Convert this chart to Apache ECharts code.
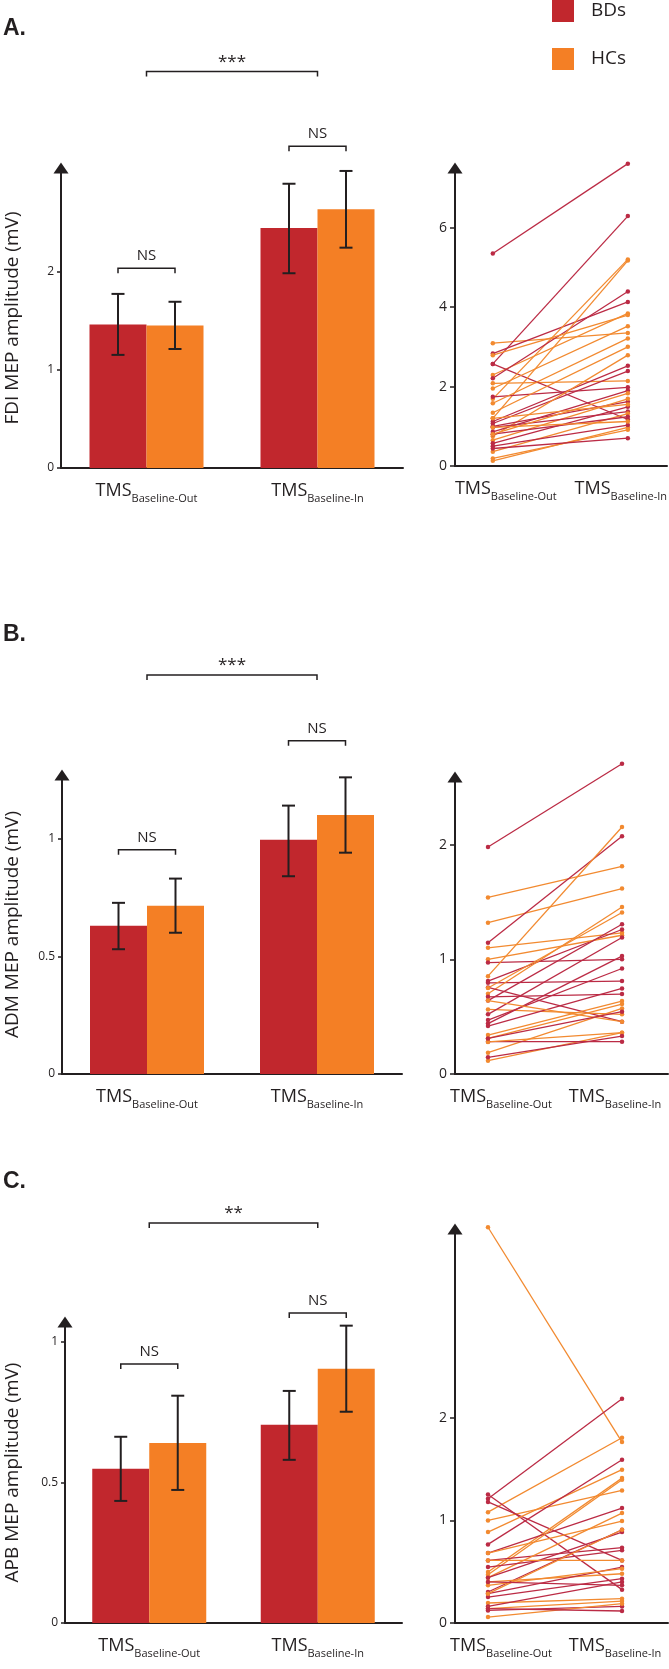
<!DOCTYPE html>
<html>
<head>
<meta charset="utf-8">
<script src="https://cdn.jsdelivr.net/npm/echarts@6/dist/echarts.min.js"></script>
<style>
html,body{margin:0;padding:0;background:#fff;}
#chart{width:669px;height:1669px;}
</style>
</head>
<body>
<div id="chart"></div>
<script>
// ---------------- DATA ----------------
const groups = ['BDs', 'HCs'];
const conditions = ['Baseline-Out', 'Baseline-In'];

// Panel A: FDI
const fdiMeanBD = [1.46, 2.44];
const fdiMeanHC = [1.45, 2.63];
const fdiLowBD = [1.15, 1.98];
const fdiHighBD = [1.77, 2.89];
const fdiLowHC = [1.21, 2.24];
const fdiHighHC = [1.69, 3.02];
const fdiSigLabels = ['NS', 'NS', '***'];
const fdiBarTicks = [0, 1, 2];
const fdiLineTicks = [0, 2, 4, 6];
const fdiOutBD = [5.35, 2.57, 2.57, 2.83, 2.21, 1.74, 1.12, 1.07, 1.00, 0.97, 0.86, 0.80, 0.57, 0.50, 0.44];
const fdiInBD  = [7.61, 6.29, 1.17, 4.13, 4.39, 1.98, 2.52, 2.39, 1.62, 1.37, 1.90, 1.24, 1.49, 1.03, 0.70];
const fdiOutHC = [3.09, 2.29, 2.08, 1.95, 1.69, 1.20, 1.58, 1.34, 0.75, 0.65, 0.36, 0.19, 0.13, 1.20, 0.80, 0.97, 2.79];
const fdiInHC  = [3.35, 3.84, 2.14, 3.52, 5.20, 5.17, 3.21, 3.00, 2.79, 1.69, 1.32, 0.91, 0.97, 1.55, 1.83, 1.12, 3.80];

// Panel B: ADM
const admMeanBD = [0.63, 0.995];
const admMeanHC = [0.715, 1.10];
const admLowBD = [0.53, 0.84];
const admHighBD = [0.727, 1.14];
const admLowHC = [0.60, 0.94];
const admHighHC = [0.83, 1.26];
const admSigLabels = ['NS', 'NS', '***'];
const admBarTicks = [0, 0.5, 1];
const admLineTicks = [0, 1, 2];
const admOutBD = [1.98, 1.144, 0.81, 0.972, 0.795, 0.755, 0.673, 0.64, 0.52, 0.47, 0.44, 0.418, 0.282, 0.145, 0.31];
const admInBD  = [2.705, 2.073, 1.26, 1.00, 0.81, 0.456, 0.697, 1.306, 1.19, 0.92, 1.028, 0.746, 0.282, 0.331, 0.543];
const admOutHC = [1.54, 1.32, 1.10, 1.00, 0.853, 0.70, 0.75, 0.563, 0.34, 0.31, 0.186, 0.116, 0.64, 0.28];
const admInHC  = [1.811, 1.617, 1.231, 1.21, 2.154, 1.457, 1.408, 0.52, 0.636, 0.61, 0.572, 0.36, 0.456, 0.36];

// Panel C: APB
const apbMeanBD = [0.548, 0.705];
const apbMeanHC = [0.64, 0.904];
const apbLowBD = [0.434, 0.58];
const apbHighBD = [0.662, 0.825];
const apbLowHC = [0.473, 0.751];
const apbHighHC = [0.808, 1.057];
const apbSigLabels = ['NS', 'NS', '**'];
const apbBarTicks = [0, 0.5, 1];
const apbLineTicks = [0, 1, 2];
const apbOutBD = [1.211, 1.253, 1.18, 0.766, 0.682, 0.61, 0.545, 0.442, 0.302, 0.286, 0.253, 0.162, 0.123, 0.14, 0.40];
const apbInBD  = [2.185, 0.325, 0.61, 1.591, 1.12, 0.734, 0.708, 0.886, 0.909, 0.545, 0.432, 0.40, 0.162, 0.117, 0.367];
const apbOutHC = [3.857, 1.08, 1.00, 0.886, 0.497, 0.471, 0.442, 0.682, 0.61, 0.40, 0.367, 0.195, 0.14, 0.058, 0.286];
const apbInHC  = [1.763, 1.805, 1.292, 1.494, 1.412, 1.396, 1.071, 0.994, 0.61, 0.48, 0.529, 0.237, 0.214, 0.188, 0.909];

// ---------------- LAYOUT / STYLE ----------------
const FONT = 'Open Sans';
const INK = '#231f20';
const BD_BAR = '#c1272d';
const HC_BAR = '#f47f25';
const BD_LINE = '#bb2b45';
const HC_LINE = '#f28a30';
const BAR_W = 57;

// annotation heights (in axis units): [within Out, within In, across]
const fdiSigLevels = [2.03, 3.27, 4.03];
const admSigLevels = [0.952, 1.415, 1.695];
const apbSigLevels = [0.921, 1.102, 1.422];

const grids = [
  {left: 61, top: 168, width: 342, height: 300, outerBoundsMode: 'none'},   // A bars
  {left: 455, top: 168, width: 212, height: 298, outerBoundsMode: 'none'},  // A lines
  {left: 62, top: 775, width: 340, height: 299, outerBoundsMode: 'none'},   // B bars
  {left: 455, top: 777, width: 213, height: 297, outerBoundsMode: 'none'},  // B lines
  {left: 65, top: 1322, width: 337, height: 301, outerBoundsMode: 'none'},  // C bars
  {left: 455, top: 1229, width: 213, height: 394, outerBoundsMode: 'none'}  // C lines
];

const tmsRich = {
  a: {fontSize: 18, color: INK, fontFamily: FONT},
  b: {fontSize: 11, color: INK, fontFamily: FONT, padding: [15, 0, 0, 0]},
  pl: {width: 26},
  pr: {width: 14}
};
const tmsFormatter = function (name) { return '{a|TMS}{b|' + name + '}'; };

const option = {
  animation: false,
  backgroundColor: '#ffffff',
  textStyle: {fontFamily: FONT},
  grid: grids,
  xAxis: [],
  yAxis: [],
  series: [],
  legend: {
    data: groups,
    orient: 'vertical',
    left: 552, top: 0,
    padding: 0,
    itemWidth: 22, itemHeight: 22, itemGap: 26,
    icon: 'rect',
    selectedMode: false,
    textStyle: {fontSize: 19, color: INK, fontFamily: FONT, padding: [0, 0, 0, 12]}
  },
  graphic: [
    {type: 'text', left: 3, top: 17, style: {text: 'A.', fontSize: 23, fontWeight: 'bold', fill: INK, fontFamily: 'Liberation Sans'}},
    {type: 'text', left: 3, top: 623, style: {text: 'B.', fontSize: 23, fontWeight: 'bold', fill: INK, fontFamily: 'Liberation Sans'}},
    {type: 'text', left: 3, top: 1170, style: {text: 'C.', fontSize: 23, fontWeight: 'bold', fill: INK, fontFamily: 'Liberation Sans'}}
  ]
};

function addBarPanel(gi, yMax, ticks, title, meanBD, meanHC, lowBD, highBD, lowHC, highHC, sigLabels, sigLevels) {
  option.xAxis.push({
    gridIndex: gi, type: 'category', data: conditions, boundaryGap: true,
    axisLine: {lineStyle: {color: INK, width: 2}},
    axisTick: {show: false},
    axisLabel: {interval: 0, hideOverlap: false, margin: 10, formatter: tmsFormatter, rich: tmsRich}
  });
  option.yAxis.push({
    gridIndex: gi, type: 'value', min: 0, max: yMax,
    name: title, nameLocation: 'middle', nameGap: grids[gi].left - 22.5,
    nameTextStyle: {fontSize: 19, color: INK, fontFamily: FONT},
    axisLine: {show: true, onZero: false, symbol: ['none', 'triangle'], symbolSize: [15, 11], lineStyle: {color: INK, width: 2}},
    axisTick: {show: true, length: 4, customValues: ticks, lineStyle: {color: INK, width: 1.5}},
    axisLabel: {customValues: ticks, fontSize: 12, color: INK, margin: 7, fontFamily: FONT},
    splitLine: {show: false}
  });
  option.series.push({
    type: 'bar', name: 'BDs', xAxisIndex: gi, yAxisIndex: gi, data: meanBD,
    barWidth: BAR_W, barGap: '0%', itemStyle: {color: BD_BAR}, silent: true
  });
  option.series.push({
    type: 'bar', name: 'HCs', xAxisIndex: gi, yAxisIndex: gi, data: meanHC,
    barWidth: BAR_W, barGap: '0%', itemStyle: {color: HC_BAR}, silent: true
  });
  const errRows = [];
  conditions.forEach(function (c, k) {
    errRows.push([k, lowBD[k], highBD[k], 0]);
    errRows.push([k, lowHC[k], highHC[k], 1]);
  });
  option.series.push({
    type: 'custom', xAxisIndex: gi, yAxisIndex: gi, data: errRows, z: 4, silent: true, clip: false,
    encode: {x: 0, y: [1, 2]},
    renderItem: function (params, api) {
      const cat = api.value(0);
      const lo = api.coord([cat, api.value(1)]);
      const hi = api.coord([cat, api.value(2)]);
      const x = lo[0] + (api.value(3) === 0 ? -BAR_W / 2 : BAR_W / 2);
      const cap = 6.5;
      const st = {stroke: INK, lineWidth: 2};
      return {type: 'group', children: [
        {type: 'line', shape: {x1: x, y1: lo[1], x2: x, y2: hi[1]}, style: st},
        {type: 'line', shape: {x1: x - cap, y1: lo[1], x2: x + cap, y2: lo[1]}, style: st},
        {type: 'line', shape: {x1: x - cap, y1: hi[1], x2: x + cap, y2: hi[1]}, style: st}
      ]};
    }
  });
  const brRows = [[0, sigLevels[0], 0], [1, sigLevels[1], 1], [0, sigLevels[2], 2]];
  option.series.push({
    type: 'custom', xAxisIndex: gi, yAxisIndex: gi, data: brRows, z: 5, silent: true, clip: false,
    encode: {x: 0, y: 1},
    renderItem: function (params, api) {
      const kind = api.value(2);
      const lvl = api.value(1);
      let x0, x1, y;
      if (kind < 2) {
        const c = api.coord([api.value(0), lvl]);
        x0 = c[0] - BAR_W / 2; x1 = c[0] + BAR_W / 2; y = c[1];
      } else {
        const a = api.coord([0, lvl]);
        const b = api.coord([1, lvl]);
        x0 = a[0]; x1 = b[0]; y = a[1];
      }
      const label = sigLabels[kind];
      const isStar = label.indexOf('*') >= 0;
      return {type: 'group', children: [
        {type: 'polyline', shape: {points: [[x0, y + 5], [x0, y], [x1, y], [x1, y + 5]]}, style: {stroke: INK, lineWidth: 1.5, fill: null}},
        {type: 'text', style: {text: label, x: (x0 + x1) / 2, y: isStar ? y - 1 : y - 5, align: 'center', verticalAlign: 'bottom',
          fontSize: isStar ? 17 : 15, fill: INK, fontFamily: FONT}}
      ]};
    }
  });
}

function addLinePanel(gi, xMin, xMax, yMax, ticks, outBD, inBD, outHC, inHC) {
  option.xAxis.push({
    gridIndex: gi, type: 'value', min: xMin, max: xMax,
    axisLine: {onZero: false, lineStyle: {color: INK, width: 2}},
    axisTick: {show: false},
    splitLine: {show: false},
    axisLabel: {
      customValues: [0, 1], margin: 10, rich: tmsRich, hideOverlap: false,
      formatter: function (v) {
        const k = Math.round(v);
        return k === 0 ? '{pl|}' + tmsFormatter(conditions[k]) : tmsFormatter(conditions[k]) + '{pr|}';
      }
    }
  });
  option.yAxis.push({
    gridIndex: gi, type: 'value', min: 0, max: yMax,
    axisLine: {show: true, onZero: false, symbol: ['none', 'triangle'], symbolSize: [15, 11], lineStyle: {color: INK, width: 2}},
    axisTick: {show: true, length: 5, customValues: ticks, lineStyle: {color: INK, width: 1.5}},
    axisLabel: {customValues: ticks, fontSize: 14, color: INK, margin: 8, fontFamily: FONT},
    splitLine: {show: false}
  });
  const n = Math.max(outBD.length, outHC.length);
  for (let k = 0; k < n; k++) {
    [[outHC, inHC, HC_LINE, 'HC'], [outBD, inBD, BD_LINE, 'BD']].forEach(function (g) {
      if (k < g[0].length) {
        option.series.push({
          type: 'line', name: g[3] + ' subject ' + (k + 1), xAxisIndex: gi, yAxisIndex: gi,
          data: [[0, g[0][k]], [1, g[1][k]]],
          symbol: 'circle', symbolSize: 4.5, showSymbol: true, clip: false, silent: true, z: 3,
          lineStyle: {width: 1.3, color: g[2]}, itemStyle: {color: g[2]}
        });
      }
    });
  }
}

addBarPanel(0, 3.05, fdiBarTicks, 'FDI MEP amplitude (mV)', fdiMeanBD, fdiMeanHC, fdiLowBD, fdiHighBD, fdiLowHC, fdiHighHC, fdiSigLabels, fdiSigLevels);
addLinePanel(1, -0.28, 1.29, 7.5, fdiLineTicks, fdiOutBD, fdiInBD, fdiOutHC, fdiInHC);
addBarPanel(2, 1.27, admBarTicks, 'ADM MEP amplitude (mV)', admMeanBD, admMeanHC, admLowBD, admHighBD, admLowHC, admHighHC, admSigLabels, admSigLevels);
addLinePanel(3, -0.246, 1.343, 2.59, admLineTicks, admOutBD, admInBD, admOutHC, admInHC);
addBarPanel(4, 1.07, apbBarTicks, 'APB MEP amplitude (mV)', apbMeanBD, apbMeanHC, apbLowBD, apbHighBD, apbLowHC, apbHighHC, apbSigLabels, apbSigLevels);
addLinePanel(5, -0.246, 1.343, 3.84, apbLineTicks, apbOutBD, apbInBD, apbOutHC, apbInHC);

const chart = echarts.init(document.getElementById('chart'), null, {renderer: 'canvas'});
chart.setOption(option);
</script>
</body>
</html>
